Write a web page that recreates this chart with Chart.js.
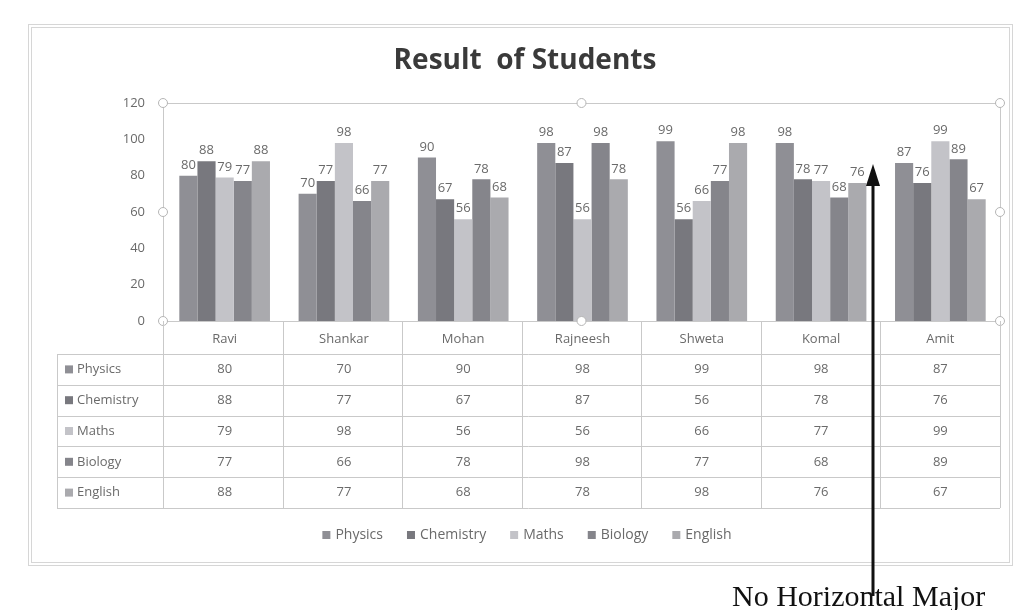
<!DOCTYPE html>
<html>
<head>
<meta charset="utf-8">
<script src="https://cdn.jsdelivr.net/npm/chart.js@4"></script>
<style>
  html, body { margin: 0; padding: 0; background: #fff; }
  #wrap { width: 1019px; height: 610px; position: relative; }
</style>
</head>
<body>
<div id="wrap"><canvas id="chart" width="1019" height="610"></canvas></div>
<script>
// Result of Students - graphique à barres groupées avec table de données (style Excel)
const students = ['Ravi', 'Shankar', 'Mohan', 'Rajneesh', 'Shweta', 'Komal', 'Amit'];
const physics   = [80, 70, 90, 98, 99, 98, 87];
const chemistry = [88, 77, 67, 87, 56, 78, 76];
const maths     = [79, 98, 56, 56, 66, 77, 99];
const biology   = [77, 66, 78, 98, 77, 68, 89];
const english   = [88, 77, 68, 78, 98, 76, 67];
const yTicks    = [0, 20, 40, 60, 80, 100, 120];

const subjects = [
    { label: 'Physics',   data: physics,   color: '#8f8f95' },
    { label: 'Chemistry', data: chemistry, color: '#78787e' },
    { label: 'Maths',     data: maths,     color: '#c3c3c8' },
    { label: 'Biology',   data: biology,   color: '#85858b' },
    { label: 'English',   data: english,   color: '#aaaaae' }
];

const TEXT_GRAY = '#6a6a6a';
const LINE_GRAY = '#c9c9c9';
const FONT = '"Open Sans", "Noto Sans", sans-serif';

// cadre extérieur + bordure de la zone de tracé + poignées de sélection
const framePlugin = {
    id: 'frame',
    beforeDraw(chart) {
        const ctx = chart.ctx;
        const a = chart.chartArea;
        ctx.save();
        ctx.strokeStyle = '#d6d6d6';
        ctx.lineWidth = 1;
        ctx.strokeRect(28.5, 24.5, 984, 541);
        ctx.strokeRect(31.5, 27.5, 978, 535);
        ctx.strokeStyle = LINE_GRAY;
        ctx.strokeRect(a.left - 2 + 0.5, a.top + 0.5, a.right - a.left + 2, a.bottom - a.top);
        ctx.restore();
    },
    afterDraw(chart) {
        const ctx = chart.ctx;
        const a = chart.chartArea;
        const l = a.left - 2, r = a.right, t = a.top, b = a.bottom;
        const mx = (l + r) / 2, my = (t + b) / 2;
        const pts = [[l, t], [mx, t], [r, t], [l, my], [r, my], [l, b], [mx, b], [r, b]];
        ctx.save();
        ctx.strokeStyle = '#b5b5b5';
        ctx.fillStyle = '#fff';
        pts.forEach(([x, y]) => {
            ctx.beginPath();
            ctx.arc(x, y, 4.5, 0, Math.PI * 2);
            ctx.fill();
            ctx.stroke();
        });
        ctx.restore();
    }
};

// titre + légende dessinés à la main (centrés comme dans Excel, pas sur le canvas)
const titleLegend = {
    id: 'titleLegend',
    afterDraw(chart) {
        const ctx = chart.ctx;
        ctx.save();
        ctx.font = 'bold 28px ' + FONT;
        ctx.fillStyle = '#3a3a3a';
        ctx.textAlign = 'center';
        ctx.textBaseline = 'middle';
        ctx.fillText('Result  of Students', 525, 61);

        ctx.font = '14px ' + FONT;
        ctx.textAlign = 'left';
        const gap = 24, box = 8;
        const widths = subjects.map(s => box + 5 + ctx.measureText(s.label).width);
        const total = widths.reduce((a, b) => a + b, 0) + gap * (subjects.length - 1);
        let lx = 527 - total / 2;
        const ly = 535;
        subjects.forEach((s, i) => {
            ctx.fillStyle = s.color;
            ctx.fillRect(lx, ly - box / 2, box, box);
            ctx.fillStyle = TEXT_GRAY;
            ctx.fillText(s.label, lx + box + 5, ly);
            lx += widths[i] + gap;
        });
        ctx.restore();
    }
};

// valeurs au-dessus des barres
const valueLabels = {
    id: 'valueLabels',
    afterDatasetsDraw(chart) {
        const ctx = chart.ctx;
        ctx.save();
        ctx.font = '13px ' + FONT;
        ctx.fillStyle = TEXT_GRAY;
        ctx.textAlign = 'center';
        ctx.textBaseline = 'bottom';
        chart.data.datasets.forEach((ds, i) => {
            chart.getDatasetMeta(i).data.forEach((bar, j) => {
                ctx.fillText(ds.data[j], bar.x, bar.y - 4);
            });
        });
        ctx.restore();
    }
};

// table de données sous l'axe des x
const dataTable = {
    id: 'dataTable',
    afterDraw(chart) {
        const ctx = chart.ctx;
        const x = chart.scales.x;
        const a = chart.chartArea;
        const left = a.left - 2, right = a.right;
        const tableLeft = 57;
        const headerTop = a.bottom;
        const rowTop = headerTop + 33;
        const rowH = 30.8;
        const nRows = subjects.length;
        const tableBottom = rowTop + rowH * nRows;
        const colW = (right - left) / students.length;

        ctx.save();
        ctx.strokeStyle = LINE_GRAY;
        ctx.lineWidth = 1;
        // lignes verticales
        for (let i = 0; i <= students.length; i++) {
            const xx = Math.round(left + i * colW) + 0.5;
            ctx.beginPath();
            ctx.moveTo(xx, headerTop);
            ctx.lineTo(xx, tableBottom);
            ctx.stroke();
        }
        ctx.beginPath();
        ctx.moveTo(tableLeft + 0.5, rowTop);
        ctx.lineTo(tableLeft + 0.5, tableBottom);
        ctx.stroke();
        // lignes horizontales
        for (let r = 0; r <= nRows; r++) {
            const yy = Math.round(rowTop + r * rowH) + 0.5;
            ctx.beginPath();
            ctx.moveTo(tableLeft, yy);
            ctx.lineTo(right, yy);
            ctx.stroke();
        }

        ctx.font = '13px ' + FONT;
        ctx.fillStyle = TEXT_GRAY;
        ctx.textBaseline = 'middle';
        ctx.textAlign = 'center';
        students.forEach((name, i) => {
            ctx.fillText(name, x.getPixelForValue(i), headerTop + 18);
        });
        subjects.forEach((s, r) => {
            const cy = rowTop + r * rowH + rowH / 2;
            ctx.textAlign = 'left';
            ctx.fillStyle = s.color;
            ctx.fillRect(tableLeft + 8, cy - 4, 8, 8);
            ctx.fillStyle = TEXT_GRAY;
            ctx.fillText(s.label, tableLeft + 20, cy);
            ctx.textAlign = 'center';
            s.data.forEach((v, i) => {
                ctx.fillText(v, x.getPixelForValue(i), cy);
            });
        });
        ctx.restore();
    }
};

// annotation du livre : flèche + texte
const annotation = {
    id: 'annotation',
    afterDraw(chart) {
        const ctx = chart.ctx;
        const ax = 873;
        ctx.save();
        ctx.strokeStyle = '#111';
        ctx.fillStyle = '#111';
        ctx.lineWidth = 3;
        ctx.beginPath();
        ctx.moveTo(ax, 596);
        ctx.lineTo(ax, 182);
        ctx.stroke();
        ctx.beginPath();
        ctx.moveTo(ax, 164);
        ctx.lineTo(ax - 7, 186);
        ctx.lineTo(ax + 7, 186);
        ctx.closePath();
        ctx.fill();
        ctx.font = '30px "Liberation Serif", "DejaVu Serif", serif';
        ctx.textAlign = 'left';
        ctx.textBaseline = 'alphabetic';
        ctx.fillText('No Horizontal Major', 732, 606);
        ctx.restore();
    }
};

new Chart(document.getElementById('chart'), {
    type: 'bar',
    data: {
        labels: students,
        datasets: subjects.map(s => ({
            label: s.label,
            data: s.data,
            backgroundColor: s.color,
            borderWidth: 0,
            categoryPercentage: 0.76,
            barPercentage: 1.0
        }))
    },
    options: {
        responsive: false,
        animation: false,
        layout: { padding: { left: 0, right: 19, top: 103, bottom: 95 } },
        plugins: {
            title: { display: false },
            legend: { display: false },
            tooltip: { enabled: false }
        },
        scales: {
            x: {
                grid: { display: false },
                border: { display: false },
                ticks: { display: false },
                afterFit(scale) { scale.height = 194; }
            },
            y: {
                min: 0,
                max: 120,
                grid: { display: false },
                border: { display: false },
                afterBuildTicks(scale) { scale.ticks = yTicks.map(v => ({ value: v })); },
                ticks: {
                    color: TEXT_GRAY,
                    font: { family: FONT, size: 13 },
                    padding: 12
                },
                afterFit(scale) { scale.width = 165; }
            }
        }
    },
    plugins: [framePlugin, valueLabels, dataTable, titleLegend, annotation]
});
</script>
</body>
</html>
